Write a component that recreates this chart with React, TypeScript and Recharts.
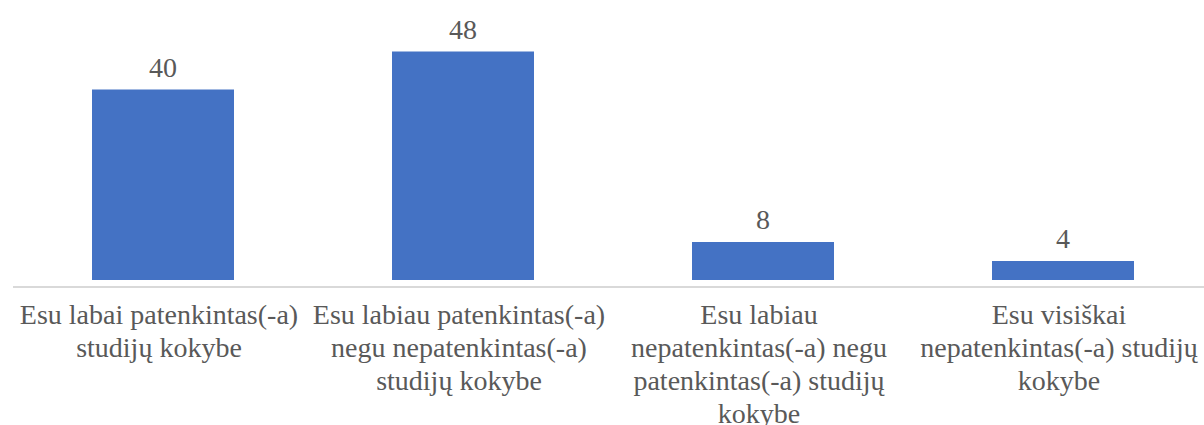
import { BarChart, Bar, XAxis, YAxis, LabelList } from "recharts";

// Atsakymų kategorijos (eilutės atskirtos \n) ir reikšmės
const categories = [
  "Esu labai patenkintas(-a)\nstudijų kokybe",
  "Esu labiau patenkintas(-a)\nnegu nepatenkintas(-a)\nstudijų kokybe",
  "Esu labiau\nnepatenkintas(-a) negu\npatenkintas(-a) studijų\nkokybe",
  "Esu visiškai\nnepatenkintas(-a) studijų\nkokybe",
];
const values = [40, 48, 8, 4];

const data = categories.map((name, i) => ({ name, value: values[i] }));

const FONT = "'Liberation Serif', 'Times New Roman', Times, serif";
const TEXT = "#595959";

function CategoryTick(props: any) {
  const { x, y, payload } = props;
  const lines = String(payload.value).split("\n");
  return (
    <text x={x} y={y} textAnchor="middle" fill={TEXT} style={{ fontFamily: FONT, fontSize: 28 }}>
      {lines.map((line, i) => (
        <tspan key={i} x={x - 4} y={y + 37 + i * 33}>
          {line}
        </tspan>
      ))}
    </text>
  );
}

export default function App() {
  return (
    <div
      style={{
        position: "absolute",
        left: 0,
        top: 0,
        width: 1204,
        height: 425,
        overflow: "hidden",
        background: "#fff",
        fontFamily: FONT,
      }}
    >
      <BarChart
        width={1220}
        height={425}
        data={data}
        margin={{ top: 42, right: 7, left: 13, bottom: 0 }}
        barSize={142}
        style={{ fontFamily: FONT }}
      >
        <XAxis
          dataKey="name"
          height={138}
          interval={0}
          tickLine={false}
          tickSize={0}
          tickMargin={0}
          axisLine={{ stroke: "#D9D9D9", strokeWidth: 2 }}
          tick={<CategoryTick />}
        />
        <YAxis hide domain={[-1.47, 50]} />
        <Bar dataKey="value" fill="#4472C4" isAnimationActive={false}>
          <LabelList
            dataKey="value"
            position="top"
            offset={13}
            fill={TEXT}
            style={{ fontFamily: FONT, fontSize: 28 }}
          />
        </Bar>
      </BarChart>
    </div>
  );
}
